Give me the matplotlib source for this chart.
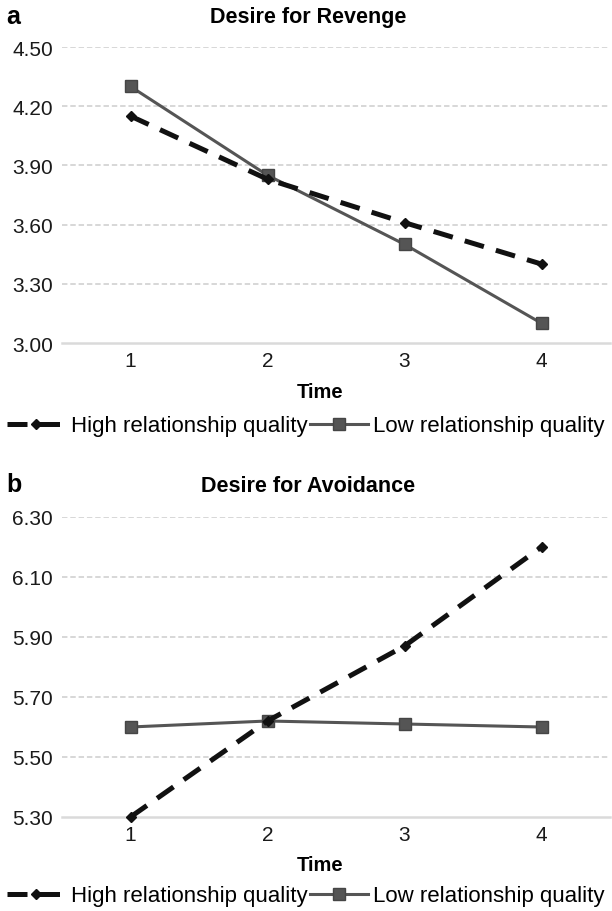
import matplotlib

matplotlib.use("Agg")
import matplotlib.pyplot as plt

plt.rcParams["font.family"] = ["Liberation Sans", "DejaVu Sans"]

time_points = [1, 2, 3, 4]
time_labels = ["1", "2", "3", "4"]

revenge_high = [4.15, 3.83, 3.61, 3.40]
revenge_low = [4.30, 3.85, 3.50, 3.10]
revenge_ticks = [3.00, 3.30, 3.60, 3.90, 4.20, 4.50]

avoid_high = [5.30, 5.62, 5.87, 6.20]
avoid_low = [5.60, 5.62, 5.61, 5.60]
avoid_ticks = [5.30, 5.50, 5.70, 5.90, 6.10, 6.30]

series_names = ["High relationship quality", "Low relationship quality"]

W, H = 612, 912
fig = plt.figure(figsize=(W / 100, H / 100), dpi=100)


def _panel(rect, letter, title, high, low, ticks, title_y, letter_y, time_y, legend_y):
    ax = fig.add_axes(rect)
    ax.set_xlim(0.5, 4.5)
    ax.set_ylim(ticks[0], ticks[-1])
    ax.set_yticks(ticks)
    ax.set_yticklabels([f"{t:.2f}" for t in ticks])
    ax.set_xticks(time_points)
    ax.set_xticklabels(time_labels)
    for t in ticks[1:]:
        ax.axhline(t, color="#d4d4d4", lw=1.3, ls=(0, (3, 1.6)), zorder=0)
    ax.axhline(ticks[0], color="#dadada", lw=1.8, zorder=0, clip_on=False)
    for s in ax.spines.values():
        s.set_visible(False)
    ax.tick_params(length=0, labelsize=15, colors="#1a1a1a")
    ax.tick_params(axis="x", pad=5.5)
    ax.tick_params(axis="y", pad=6.5)

    l1, = ax.plot(time_points, high, color="#111111", lw=3.6, ls=(0, (4, 2.5)),
                  marker="D", markersize=5.5, markerfacecolor="#111111",
                  markeredgecolor="#111111", zorder=3, clip_on=False)
    l2, = ax.plot(time_points, low, color="#555555", lw=2.2,
                  marker="s", markersize=8, markerfacecolor="#555555",
                  markeredgecolor="#454545", zorder=2, clip_on=False)

    fig.text(6 / W, 1 - letter_y / H, letter, fontsize=18, fontweight="bold",
             va="center", ha="left")
    fig.text(308 / W, 1 - title_y / H, title, fontsize=15.5, fontweight="bold",
             va="center", ha="center")
    fig.text(320 / W, 1 - time_y / H, "Time", fontsize=14.5, fontweight="bold",
             va="center", ha="center")
    fig.legend([l1, l2], series_names, loc="center", ncol=2,
               bbox_to_anchor=(306 / W, 1 - legend_y / H), frameon=False,
               fontsize=16, handlelength=2.6, handletextpad=0.25,
               columnspacing=0.12, borderaxespad=0, borderpad=0)
    return ax


_panel([62 / W, 1 - 344 / H, 548 / W, 296 / H], "a", "Desire for Revenge",
       revenge_high, revenge_low, revenge_ticks, 18, 17, 393, 427)
_panel([62 / W, 1 - 818 / H, 548 / W, 300 / H], "b", "Desire for Avoidance",
       avoid_high, avoid_low, avoid_ticks, 486, 485, 866, 897)

fig.savefig("out.png", dpi=100)
